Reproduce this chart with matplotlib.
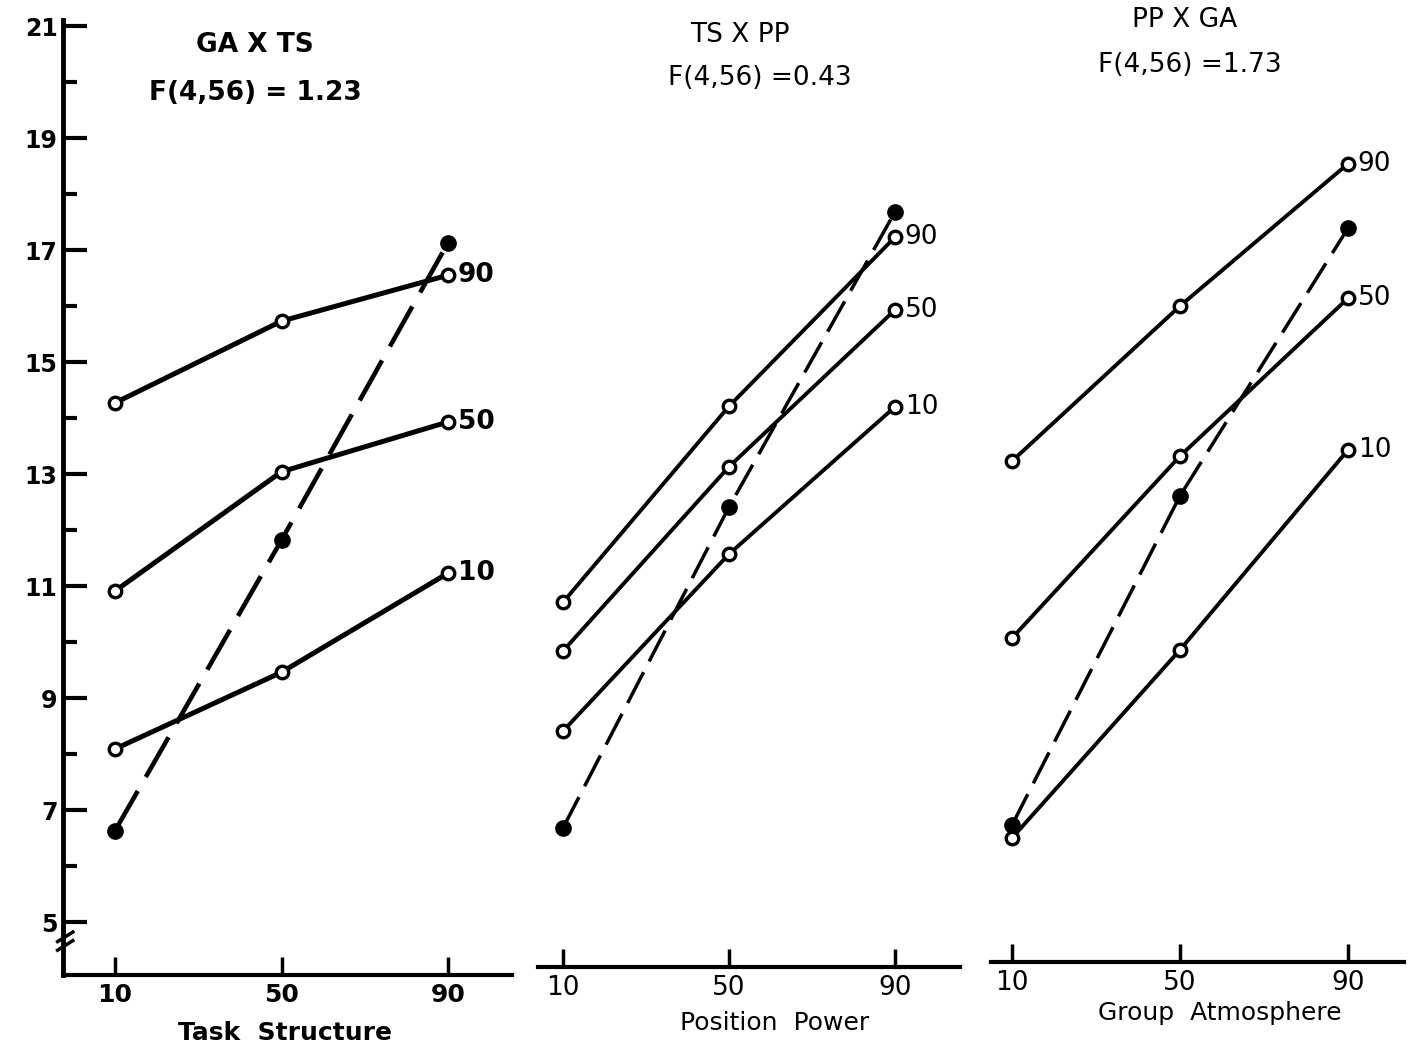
import matplotlib
matplotlib.use("Agg")
import matplotlib.pyplot as plt

plt.rcParams['font.family'] = ['DejaVu Sans']

# factor levels on every x axis
levels = [10, 50, 90]

# GA x TS panel (x = task structure, lines = group atmosphere)
ts_ga90 = [14.27, 15.73, 16.55]
ts_ga50 = [10.91, 13.04, 13.93]
ts_ga10 = [8.09, 9.46, 11.23]
ts_main = [6.63, 11.82, 17.13]

# TS x PP panel (x = position power, lines = task structure)
pp_ts90 = [10.71, 14.21, 17.23]
pp_ts50 = [9.84, 13.13, 15.93]
pp_ts10 = [8.41, 11.57, 14.20]
pp_main = [6.68, 12.41, 17.68]

# PP x GA panel (x = group atmosphere, lines = position power)
ga_pp90 = [13.23, 16.00, 18.54]
ga_pp50 = [10.07, 13.32, 16.14]
ga_pp10 = [6.50, 9.86, 13.43]
ga_main = [6.73, 12.61, 17.39]

line_labels = ["90", "50", "10"]
yticks_major = [5, 7, 9, 11, 13, 15, 17, 19, 21]
yticks_minor = [6, 8, 10, 12, 14, 16, 18, 20]

W, H = 1410, 1059
fig = plt.figure(figsize=(W / 100, H / 100), dpi=100)


def px_to_y(py):
    # vertical scale of the scan: 5 at 922 px, 56 px per unit
    return 5 + (922 - py) / 56.0


def make_axes(left, right, top, bottom, p10, p90):
    ax = fig.add_axes([left / W, 1 - bottom / H, (right - left) / W, (bottom - top) / H])
    s = (p90 - p10) / 80.0
    ax.set_xlim(10 - (p10 - left) / s, 90 + (right - p90) / s)
    ax.set_ylim(px_to_y(bottom), px_to_y(top))
    ax.patch.set_alpha(0)
    for side in ["top", "right"]:
        ax.spines[side].set_visible(False)
    return ax


def draw_panel(ax, series, main, lw, bold):
    for vals, lab in zip(series, line_labels):
        ax.plot(levels, vals, color="black", lw=lw, marker="o", ms=9,
                mfc="white", mec="black", mew=2.4, solid_capstyle="round", zorder=3)
        ax.annotate(lab, (levels[-1], vals[-1]), xytext=(7, 0), textcoords="offset points",
                    ha="left", va="center", fontsize=19,
                    fontweight="bold" if bold else "normal")
    ax.plot(levels, main, color="black", lw=lw - 0.3, dashes=(10, 3.5),
            marker="o", ms=11, mfc="black", mec="black", zorder=4)
    ax.set_xticks(levels)
    ax.set_xticklabels([str(v) for v in levels], fontsize=18 if bold else 19,
                       fontweight="bold" if bold else "normal")
    ax.tick_params(axis="x", direction="in", length=13, width=2.5, pad=6)
    ax.spines["bottom"].set_linewidth(3)


# panel 1 with the y axis
ax1 = make_axes(63, 512, 20, 975, 115, 448)
draw_panel(ax1, [ts_ga90, ts_ga50, ts_ga10], ts_main, 3.6, True)
ax1.spines["left"].set_linewidth(3.5)
ax1.set_yticks(yticks_major)
ax1.set_yticklabels([str(v) for v in yticks_major], fontsize=17, fontweight="bold")
ax1.set_yticks(yticks_minor, minor=True)
ax1.tick_params(axis="y", which="major", direction="in", length=17, width=3, pad=4)
ax1.tick_params(axis="y", which="minor", direction="in", length=10, width=3)
# axis break mark near the bottom of the y axis
for dy in (0.0, 0.009):
    ax1.plot([-0.012, 0.022], [0.026 + dy, 0.036 + dy], transform=ax1.transAxes,
             color="black", lw=2.5, clip_on=False)

# panel 2
ax2 = make_axes(538, 960, 20, 967, 563, 895)
draw_panel(ax2, [pp_ts90, pp_ts50, pp_ts10], pp_main, 2.8, False)
ax2.spines["left"].set_visible(False)
ax2.set_yticks([])

# panel 3
ax3 = make_axes(991, 1404, 20, 962, 1012, 1348)
draw_panel(ax3, [ga_pp90, ga_pp50, ga_pp10], ga_main, 2.8, False)
ax3.spines["left"].set_visible(False)
ax3.set_yticks([])

# titles and axis names
fig.text(255 / W, 1 - 45 / H, "GA X TS", ha="center", va="center", fontsize=19, fontweight="bold")
fig.text(255 / W, 1 - 93 / H, "F(4,56) = 1.23", ha="center", va="center", fontsize=19, fontweight="bold")
fig.text(740 / W, 1 - 35 / H, "TS X PP", ha="center", va="center", fontsize=19)
fig.text(760 / W, 1 - 78 / H, "F(4,56) =0.43", ha="center", va="center", fontsize=19)
fig.text(1185 / W, 1 - 20 / H, "PP X GA", ha="center", va="center", fontsize=19)
fig.text(1190 / W, 1 - 65 / H, "F(4,56) =1.73", ha="center", va="center", fontsize=19)

fig.text(285 / W, 1 - 1033 / H, "Task  Structure", ha="center", va="center", fontsize=18, fontweight="bold")
fig.text(775 / W, 1 - 1023 / H, "Position  Power", ha="center", va="center", fontsize=18)
fig.text(1220 / W, 1 - 1013 / H, "Group  Atmosphere", ha="center", va="center", fontsize=18)

fig.savefig("out.png", dpi=100)
